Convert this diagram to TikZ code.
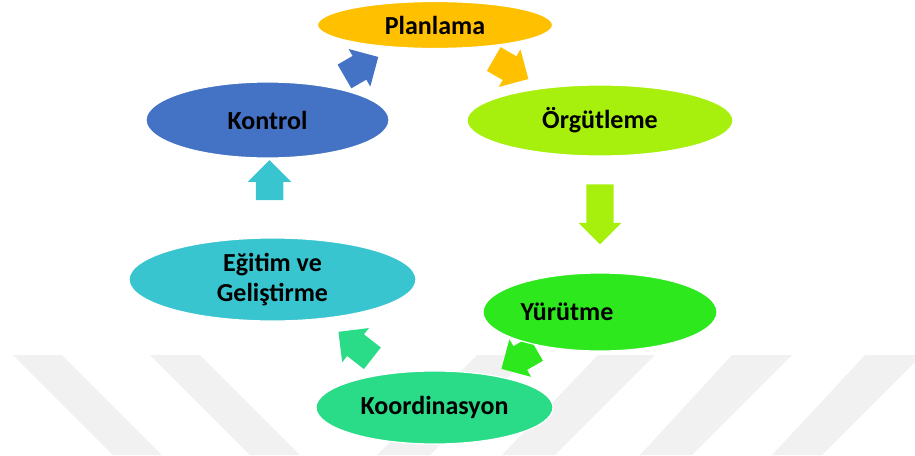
\documentclass[tikz,border=0pt]{standalone}
\usepackage{fontspec}
\setmainfont{Carlito}
\usetikzlibrary{shapes.geometric,shapes.arrows,calc,backgrounds}
\definecolor{planc}{HTML}{FFC000}
\definecolor{orgc}{HTML}{A7F00E}
\definecolor{yurc}{HTML}{2EE81E}
\definecolor{koorc}{HTML}{2ADB88}
\definecolor{egitc}{HTML}{38C5D0}
\definecolor{kontc}{HTML}{4472C4}
\definecolor{wmgray}{HTML}{F1F1F1}

\begin{document}
\begin{tikzpicture}
  [x=1pt,y=-1pt,
   phasetext/.style={font=\bfseries\fontsize{26}{30}\selectfont},
   phase/.style={ellipse,draw=white,line width=1.2pt,inner sep=0pt,phasetext},
   fatarrow/.style={single arrow,draw=none,inner xsep=0pt,inner ysep=13.5pt,
     single arrow head extend=8pt,minimum height=#1}]
  \useasboundingbox (0,0) rectangle (915,455);
  \node[phase,fill=planc,minimum width=235pt,minimum height=47pt] (plan) at (435,25) {Planlama};
  \node[phase,fill=orgc,minimum width=266pt,minimum height=71pt] (org) at (600,120.5) {Örgütleme};
  \node[phase,fill=yurc,minimum width=234pt,minimum height=78pt,
    label={[phasetext,xshift=-33pt]center:Yürütme}] (yur) at (600,312) {};
  \node[phase,fill=koorc,minimum width=237pt,minimum height=73pt] (koor) at (434.5,407.5) {Koordinasyon};
  \node[phase,fill=egitc,align=center,minimum width=287pt,minimum height=83pt] (egit) at (272.5,279.5) {Eğitim ve\\Geliştirme};
  \node[phase,fill=kontc,minimum width=243pt,minimum height=76pt] (kont) at (267.5,120) {Kontrol};

  \begin{scope}[on background layer]
    % watermark
    \begin{scope}
      \clip (0,0) rectangle (915,455);
      \fill[wmgray] (13,355) -- (62,355) -- (162,455) -- (113,455) -- cycle;
      \fill[wmgray] (150,355) -- (200,355) -- (300,455) -- (250,455) -- cycle;
      \fill[wmgray] (477,355) -- (530,355) -- (430,455) -- (377,455) -- cycle;
      \fill[wmgray] (598,355) -- (655,355) -- (555,455) -- (502,455) -- cycle;
      \fill[wmgray] (732,355) -- (792,355) -- (692,455) -- (640,455) -- cycle;
      \fill[wmgray] (865,355) -- (922,355) -- (822,455) -- (772,455) -- cycle;
    \end{scope}
    \foreach \from/\to/\pos/\ang/\len/\col in {plan/org/0.425/-30/40pt/planc,
        org/yur/0.455/-90/60pt/orgc, yur/koor/0.455/-150/40pt/yurc,
        koor/egit/0.455/142/43pt/koorc, egit/kont/0.58/90/40pt/egitc,
        kont/plan/0.525/30/39pt/kontc}
      \node[fatarrow=\len,fill=\col,rotate=\ang] (a-\from) at ($(\from)!\pos!(\to)$) {};
  \end{scope}
\end{tikzpicture}
\end{document}
